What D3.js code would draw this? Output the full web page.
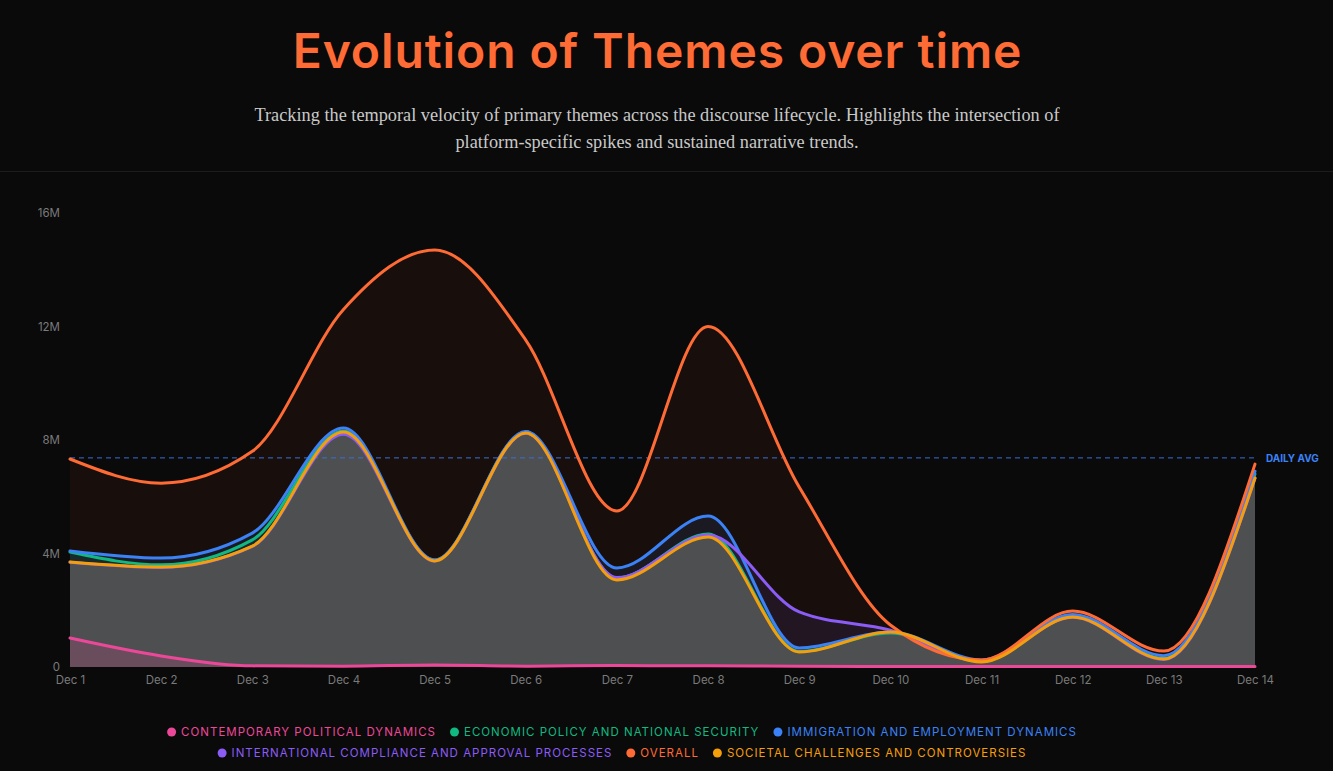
<!DOCTYPE html>
<html>
<head>
<meta charset="utf-8">
<script src="https://cdn.jsdelivr.net/npm/d3@7/dist/d3.min.js"></script>
<style>
  html, body { margin: 0; padding: 0; background: #0a0a0a; }
  svg { display: block; }
</style>
</head>
<body>
<svg id="chart" width="1333" height="771"></svg>
<script>
// ---------------- DATA ----------------
const days = ["Dec 1","Dec 2","Dec 3","Dec 4","Dec 5","Dec 6","Dec 7","Dec 8","Dec 9","Dec 10","Dec 11","Dec 12","Dec 13","Dec 14"];
const yTicks = [0, 4e6, 8e6, 12e6, 16e6];
const dailyAvg = 7.37e6;

const contemporary = [1.02, 0.39, 0.04, 0.03, 0.07, 0.03, 0.05, 0.04, 0.03, 0.02, 0.02, 0.02, 0.02, 0.02];
const economic     = [4.05, 3.60, 4.48, 8.32, 3.77, 8.28, 3.14, 4.69, 0.55, 1.20, 0.20, 1.80, 0.30, 6.80];
const immigration  = [4.09, 3.84, 4.72, 8.42, 3.77, 8.30, 3.49, 5.32, 0.67, 1.23, 0.25, 1.85, 0.40, 6.90];
const international= [3.69, 3.51, 4.25, 8.20, 3.74, 8.24, 3.15, 4.65, 1.94, 1.30, 0.20, 1.75, 0.26, 6.65];
const overall      = [7.33, 6.48, 7.60, 12.60, 14.70, 11.52, 5.50, 12.00, 6.34, 1.48, 0.25, 1.97, 0.56, 7.15];
const societal     = [3.70, 3.52, 4.26, 8.28, 3.74, 8.25, 3.07, 4.58, 0.53, 1.23, 0.18, 1.76, 0.28, 6.66];

const seriesNames = [
  "Contemporary Political Dynamics",
  "Economic Policy and National Security",
  "Immigration and Employment Dynamics",
  "International Compliance and Approval Processes",
  "Overall",
  "Societal Challenges and Controversies"
];
const seriesValues = [contemporary, economic, immigration, international, overall, societal];
const seriesColors = ["#ec4899", "#10b981", "#3b82f6", "#8b5cf6", "#ff6b35", "#f59e0b"];

// ---------------- LAYOUT ----------------
const W = 1333, H = 771;
const svg = d3.select("#chart");
svg.append("rect").attr("width", W).attr("height", H).attr("fill", "#0a0a0a");

// Title
svg.append("text")
  .attr("x", W / 2 - 9).attr("y", 68)
  .attr("text-anchor", "middle")
  .attr("font-family", "Inter, 'Open Sans', sans-serif")
  .attr("font-weight", 600)
  .attr("font-size", 48)
  .attr("letter-spacing", 0.9)
  .attr("fill", "#ff6b35")
  .text("Evolution of Themes over time");

const subLines = [
  "Tracking the temporal velocity of primary themes across the discourse lifecycle. Highlights the intersection of",
  "platform-specific spikes and sustained narrative trends."
];
svg.selectAll("text.sub").data(subLines).enter().append("text")
  .attr("class", "sub")
  .attr("x", 657).attr("y", (d, i) => 121 + i * 27)
  .attr("text-anchor", "middle")
  .attr("font-family", "'Liberation Serif', 'DejaVu Serif', serif")
  .attr("font-size", 18.3)
  .attr("fill", "#c9c9c9")
  .text(d => d);

svg.append("line")
  .attr("x1", 0).attr("x2", W).attr("y1", 171.5).attr("y2", 171.5)
  .attr("stroke", "#1c1c1c").attr("stroke-width", 1);

// Scales
const x = d3.scalePoint().domain(days).range([70, 1255]);
const y = d3.scaleLinear().domain([0, 16e6]).range([667, 213]);

const fmt = v => v === 0 ? "0" : (v / 1e6) + "M";

// Y axis
const yAxis = d3.axisLeft(y).tickValues(yTicks).tickFormat(fmt).tickSize(0).tickPadding(10);
const gy = svg.append("g").attr("transform", "translate(70,0)").call(yAxis);
gy.select(".domain").remove();
gy.selectAll("text")
  .attr("font-family", "Inter, 'Open Sans', sans-serif")
  .attr("font-size", 11.5).attr("fill", "#7a7a7a");

// X axis
const xAxis = d3.axisBottom(x).tickSize(0).tickPadding(9);
const gx = svg.append("g").attr("transform", "translate(0,667)").call(xAxis);
gx.select(".domain").remove();
gx.selectAll("text")
  .attr("font-family", "Inter, 'Open Sans', sans-serif")
  .attr("font-size", 11.5).attr("fill", "#7a7a7a");

// Areas & lines
const curve = d3.curveMonotoneX;
const area = d3.area().x((d, i) => x(days[i])).y0(y(0)).y1(d => y(d * 1e6)).curve(curve);
const line = d3.line().x((d, i) => x(days[i])).y(d => y(d * 1e6)).curve(curve);

const fills = [
  { idx: 4, fill: "#ff6b35", op: 0.06 },
  { idx: 3, fill: "#8b5cf6", op: 0.10 },
  { idx: 2, fill: "#3b82f6", op: 0.10 },
  { idx: 1, fill: "#10b981", op: 0.10 },
  { idx: 5, fill: "#4e4f50", op: 1.0 },
  { idx: 0, fill: "#ec4899", op: 0.18 }
];
const gArea = svg.append("g");
gArea.selectAll("path").data(fills).enter().append("path")
  .attr("d", f => area(seriesValues[f.idx]))
  .attr("fill", f => f.fill)
  .attr("fill-opacity", f => f.op);

// Daily avg line
svg.append("line")
  .attr("x1", 70).attr("x2", 1255)
  .attr("y1", y(dailyAvg)).attr("y2", y(dailyAvg))
  .attr("stroke", "#3b6fd6").attr("stroke-width", 1)
  .attr("stroke-dasharray", "5,4");
svg.append("text")
  .attr("x", 1266).attr("y", y(dailyAvg) + 4)
  .attr("font-family", "Inter, 'Open Sans', sans-serif")
  .attr("font-weight", 700).attr("font-size", 10)
  .attr("fill", "#3b82f6")
  .text("DAILY AVG");

const gLine = svg.append("g");
gLine.selectAll("path").data(seriesValues).enter().append("path")
  .attr("d", d => line(d))
  .attr("fill", "none")
  .attr("stroke", (d, i) => seriesColors[i])
  .attr("stroke-width", 3)
  .attr("stroke-linejoin", "round")
  .attr("stroke-linecap", "round");

// Legend
const legendFont = "Inter, 'Open Sans', sans-serif";
const rows = [[0, 1, 2], [3, 4, 5]];
const rowY = [732, 753];
const legendCenter = 622;
const gap = 14, dotR = 4.5, dotGap = 5;
rows.forEach((row, ri) => {
  const g = svg.append("g");
  const items = [];
  row.forEach(i => {
    const it = g.append("g");
    it.append("circle").attr("r", dotR).attr("cx", dotR).attr("cy", 0).attr("fill", seriesColors[i]);
    const t = it.append("text")
      .attr("x", dotR * 2 + dotGap).attr("y", 4)
      .attr("font-family", legendFont).attr("font-size", 11.5)
      .attr("letter-spacing", 1.0)
      .attr("fill", seriesColors[i])
      .text(seriesNames[i].toUpperCase());
    const w = dotR * 2 + dotGap + t.node().getComputedTextLength();
    items.push({ it, w });
  });
  const total = d3.sum(items, d => d.w) + gap * (items.length - 1);
  let start = legendCenter - total / 2;
  items.forEach(d => {
    d.it.attr("transform", `translate(${start},${rowY[ri]})`);
    start += d.w + gap;
  });
});
</script>
</body>
</html>
